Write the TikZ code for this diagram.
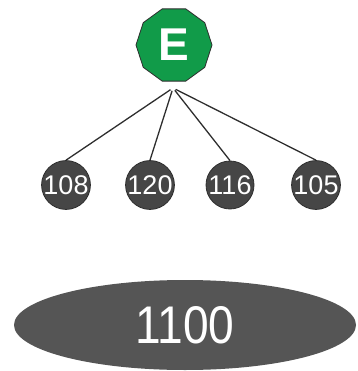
\documentclass[tikz,border=0pt]{standalone}
\usepackage{fontspec}
\setmainfont{Liberation Sans}
\usetikzlibrary{shapes.geometric}
\definecolor{TreeGreen}{HTML}{119B49}
\definecolor{TreeGray}{HTML}{464646}
\definecolor{TreeDark}{HTML}{2E2E2E}
\definecolor{TreeOval}{HTML}{555555}
\begin{document}
\begin{tikzpicture}[x=1pt, y=-1pt,
  root/.style={regular polygon, regular polygon sides=10, draw=TreeDark, line width=0.8pt, fill=TreeGreen, minimum size=76pt, inner sep=0pt, text=white, font=\fontsize{46}{46}\selectfont\bfseries},
  leaf/.style={circle, draw=TreeDark, line width=0.8pt, fill=TreeGray, minimum size=48pt, inner sep=0pt, text=white, font=\fontsize{27}{27}\selectfont},
  total/.style={ellipse, fill=TreeOval, minimum width=342pt, minimum height=90pt, inner sep=0pt, text=white, font=\fontsize{53}{53}\selectfont},
  link/.style={line width=1.3pt, TreeDark}]
\useasboundingbox (0,0) rectangle (357,371);
\node[root] (E) at (174,45) {E};
\coordinate (hub) at (173,88);
\node[leaf] (n108) at (66,185) {108};
\node[leaf] (n120) at (150,185) {120};
\node[leaf] (n116) at (230,185) {116};
\node[leaf] (n105) at (316,185) {105};
\draw[link, shorten <=3pt] (hub) -- (n108.north);
\draw[link, shorten <=3pt] (hub) -- (n120.north);
\draw[link, shorten <=3pt] (hub) -- (n116.north);
\draw[link, shorten <=3pt] (hub) -- (n105.north);
\node[total] (sum) at (185,325) {\scalebox{0.87}[1]{1100}};
\end{tikzpicture}
\end{document}
